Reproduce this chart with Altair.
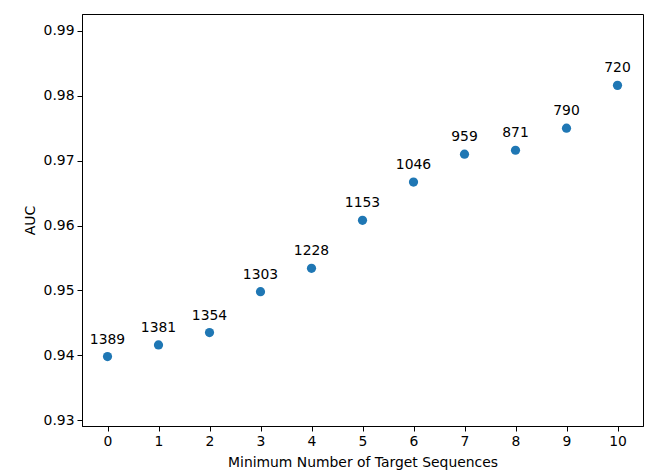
import altair as alt
import pandas as pd

min_targets = [0, 1, 2, 3, 4, 5, 6, 7, 8, 9, 10]
auc = [0.9398, 0.9416, 0.9435, 0.9498, 0.9534, 0.9608, 0.9667, 0.9710, 0.9716, 0.9750, 0.9816]
counts = [1389, 1381, 1354, 1303, 1228, 1153, 1046, 959, 871, 790, 720]
y_ticks = [0.93, 0.94, 0.95, 0.96, 0.97, 0.98, 0.99]

df = pd.DataFrame({"min_targets": min_targets, "auc": auc, "count": counts})

base = alt.Chart(df).encode(
    x=alt.X(
        "min_targets:Q",
        scale=alt.Scale(domain=[-0.5, 10.5], nice=False, zero=False),
        axis=alt.Axis(values=min_targets, format="d", title="Minimum Number of Target Sequences",
                      titlePadding=8),
    ),
    y=alt.Y(
        "auc:Q",
        scale=alt.Scale(domain=[0.9291, 0.9926], nice=False, zero=False),
        axis=alt.Axis(values=y_ticks, format=".2f", title="AUC", titlePadding=6),
    ),
)

points = base.mark_circle(size=85, color="#1f77b4", opacity=1)
labels = base.mark_text(
    dy=-13, baseline="alphabetic", align="center", font="DejaVu Sans", fontSize=13.9, color="black"
).encode(text="count:N")

chart = (
    (points + labels)
    .properties(
        width=561,
        height=412,
        autosize=alt.AutoSizeParams(type="none"),
        padding={"left": 82, "top": 14, "right": 9, "bottom": 50},
    )
    .configure_view(stroke="black", strokeWidth=1)
    .configure_axis(
        grid=False,
        domainColor="black",
        domainWidth=1,
        tickColor="black",
        tickWidth=1,
        tickSize=5,
        labelPadding=3,
        labelColor="black",
        titleColor="black",
        labelFont="DejaVu Sans",
        titleFont="DejaVu Sans",
        labelFontSize=13.9,
        titleFontSize=13.9,
        titleFontWeight="normal",
    )
)

chart.save("out.html", embed_options={"renderer": "svg", "actions": False})
